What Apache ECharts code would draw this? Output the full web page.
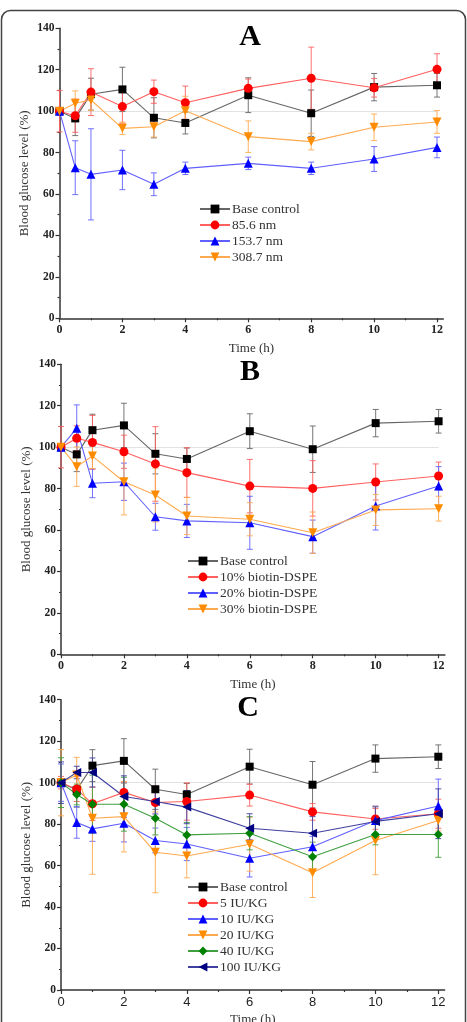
<!DOCTYPE html>
<html>
<head>
<meta charset="utf-8">
<script src="https://cdn.jsdelivr.net/npm/echarts@6/dist/echarts.min.js"></script>
<style>
html,body{margin:0;padding:0;background:#fff;}
#chart{width:467px;height:1022px;}
</style>
</head>
<body>
<div id="chart"></div>
<script>
// ---------------- DATA ----------------
const times = [0, 0.5, 1, 2, 3, 4, 6, 8, 10, 12];
const xTickLabels = [0, 2, 4, 6, 8, 10, 12];
const xMinorTicks = [1, 3, 5, 7, 9, 11];

const baseCtrl    = [100, 96.5, 108.2, 110.5, 96.8, 94.3, 107.7, 99.0, 111.6, 112.5];
const baseCtrlErr = [0, 8.3, 7.7, 10.7, 9.7, 5.3, 8.4, 11.2, 6.6, 5.7];

// Panel A
const a856     = [100, 97.8, 109.2, 102.2, 109.4, 104.1, 111.0, 115.9, 111.3, 120.2];
const a856Err  = [10, 8, 11.3, 8, 5.6, 8, 4.5, 15, 4.5, 7.5];
const a1537    = [100, 72.7, 69.5, 71.6, 64.7, 72.4, 74.8, 72.4, 76.9, 82.5];
const a1537Err = [0, 13, 22, 9.5, 5.5, 3, 3, 3, 6, 5];
const a3087    = [100, 103.8, 105.4, 91.7, 92.5, 100.2, 87.7, 85.3, 92.2, 94.8];
const a3087Err = [0, 6, 5, 3, 5, 7, 7.6, 4, 6.4, 5.5];

// Panel B
const b10    = [100, 104.3, 102.3, 97.8, 91.9, 87.7, 81.2, 80.1, 83.2, 86.1];
const b10Err = [10, 6, 13, 8, 18, 12, 12.9, 13.4, 8.7, 6.7];
const b20    = [100, 109.1, 82.6, 83.3, 66.4, 64.4, 63.5, 56.8, 71.6, 81.2];
const b20Err = [0, 11.3, 7, 9, 6.5, 8, 12.8, 8, 11.6, 9.4];
const b30    = [100, 90.6, 95.7, 83.3, 76.9, 66.8, 65.2, 58.7, 69.7, 70.3];
const b30Err = [0, 9.5, 6, 16, 13, 9, 8, 10, 7.5, 6];

// Panel C
const c5     = [100, 96.9, 89.8, 95.3, 90.4, 90.9, 94.0, 85.9, 82.5, 85.0];
const c5Err  = [3, 6, 8, 5, 8, 9, 5.3, 4, 5, 7];
const c10    = [100, 80.8, 77.7, 80.4, 72.1, 70.4, 63.5, 69.1, 81.7, 88.7];
const c10Err = [9, 7.6, 6, 9, 6, 8, 9, 5, 7, 13];
const c20    = [100, 103.7, 82.8, 83.6, 66.4, 64.6, 70.3, 56.6, 72.1, 81.7];
const c20Err = [16, 8.5, 27, 17, 19.5, 10.5, 13, 12, 16.5, 5];
const c40    = [100, 94.3, 89.6, 89.6, 82.8, 74.8, 75.6, 64.3, 75.0, 75.0];
const c40Err = [12, 5, 14, 13, 8, 6, 8, 7, 5, 11];
const c100   = [100, 104.9, 104.9, 93.3, 90.9, 88.2, 78.0, 75.6, 81.3, 85.0];
const c100Err= [10, 3, 7, 10, 6, 8, 7, 8, 7, 12];

const panelLetters = ['A', 'B', 'C'];
const yTitle = 'Blood glucose level (%)';
const xTitle = 'Time (h)';

// ---------------- STYLE ----------------
const SERIF = '"Liberation Serif", "Times New Roman", serif';
const SANS = '"Liberation Sans", Arial, sans-serif';
const STY = {
  black:  {marker:'#000000', line:'#666666', symbol:'rect', rot:0, size:8},
  red:    {marker:'#ff0000', line:'#ff6060', symbol:'circle', rot:0, size:9},
  blue:   {marker:'#0000ff', line:'#6060ff', symbol:'triangle', rot:0, size:9},
  orange: {marker:'#ff8c00', line:'#ffaa50', symbol:'triangle', rot:180, size:9},
  green:  {marker:'#008000', line:'#40a040', symbol:'diamond', rot:0, size:9},
  navy:   {marker:'#000080', line:'#4040a0', symbol:'triangle', rot:90, size:9}
};

const panels = [
  {grid:{left:59.5, top:28.3, width:383.8, height:290}, letter:{x:250, y:37},
   legend:{left:199, top:202}, xLabelFont:{fontFamily:SERIF, fontWeight:'bold', fontSize:12}, xNameGap:24,
   sets:[
     {name:'Base control', v:baseCtrl, e:baseCtrlErr, s:'black'},
     {name:'85.6 nm', v:a856, e:a856Err, s:'red'},
     {name:'153.7 nm', v:a1537, e:a1537Err, s:'blue'},
     {name:'308.7 nm', v:a3087, e:a3087Err, s:'orange'}
   ]},
  {grid:{left:61, top:364.3, width:383.9, height:290}, letter:{x:250, y:372},
   legend:{left:187, top:554}, xLabelFont:{fontFamily:SERIF, fontWeight:'bold', fontSize:12}, xNameGap:24,
   sets:[
     {name:'Base control', v:baseCtrl, e:baseCtrlErr, s:'black'},
     {name:'10% biotin-DSPE', v:b10, e:b10Err, s:'red'},
     {name:'20% biotin-DSPE', v:b20, e:b20Err, s:'blue'},
     {name:'30% biotin-DSPE', v:b30, e:b30Err, s:'orange'}
   ]},
  {grid:{left:61, top:699.7, width:383.6, height:290.3}, letter:{x:248, y:708},
   legend:{left:187, top:880}, xLabelFont:{fontFamily:SANS, fontWeight:'normal', fontSize:13}, xNameGap:23,
   sets:[
     {name:'Base control', v:baseCtrl, e:baseCtrlErr, s:'black'},
     {name:'5 IU/KG', v:c5, e:c5Err, s:'red'},
     {name:'10 IU/KG', v:c10, e:c10Err, s:'blue'},
     {name:'20 IU/KG', v:c20, e:c20Err, s:'orange'},
     {name:'40 IU/KG', v:c40, e:c40Err, s:'green'},
     {name:'100 IU/KG', v:c100, e:c100Err, s:'navy'}
   ]}
];

const grids = [], xAxes = [], yAxes = [], series = [], legends = [], graphics = [];

panels.forEach((p, pi) => {
  grids.push(Object.assign({containLabel:false, outerBoundsMode:'none'}, p.grid));
  const mainX = xAxes.length;
  xAxes.push({
    gridIndex: pi, type:'value', min:0, max:12.2, position:'bottom',
    name: xTitle, nameLocation:'middle', nameGap:p.xNameGap, nameMoveOverlap:false,
    nameTextStyle:{fontFamily:SERIF, fontSize:13, color:'#333'},
    axisLine:{show:true, onZero:false, lineStyle:{color:'#333', width:1.5}},
    axisTick:{show:true, inside:false, length:4, customValues:xTickLabels, lineStyle:{color:'#333', width:1.2}},
    axisLabel:{show:true, margin:6, customValues:xTickLabels, color:'#222',
      fontFamily:p.xLabelFont.fontFamily, fontWeight:p.xLabelFont.fontWeight, fontSize:p.xLabelFont.fontSize},
    splitLine:{show:false}
  });
  xAxes.push({
    gridIndex: pi, type:'value', min:0, max:12.2, position:'bottom',
    axisLine:{show:false},
    axisTick:{show:true, inside:false, length:2, customValues:xMinorTicks, lineStyle:{color:'#333', width:1.2}},
    axisLabel:{show:false},
    splitLine:{show:false}
  });
  yAxes.push({
    gridIndex: pi, type:'value', min:0, max:140, interval:20,
    name: yTitle, nameLocation:'middle', nameGap:28, nameRotate:90, nameMoveOverlap:false,
    nameTextStyle:{fontFamily:SERIF, fontSize:13, color:'#333'},
    axisLine:{show:true, onZero:false, lineStyle:{color:'#333', width:1.5}},
    axisTick:{show:true, inside:false, length:4, lineStyle:{color:'#333', width:1.2}},
    minorTick:{show:true, splitNumber:2, length:2, lineStyle:{color:'#333', width:1.2}},
    axisLabel:{margin:5, color:'#222', fontFamily:SERIF, fontWeight:'bold', fontSize:11.5},
    splitLine:{show:false}
  });

  const names = [];
  p.sets.forEach((d, di) => {
    const st = STY[d.s];
    names.push(d.name);
    // error bars
    series.push({
      type:'custom', name:d.name + ' error', xAxisIndex:mainX, yAxisIndex:pi,
      z: 2, silent:true,
      data: times.map((t, i) => [t, d.v[i] - d.e[i], d.v[i] + d.e[i]]),
      encode:{x:0, y:[1,2]},
      renderItem: (params, api) => {
        const x = api.value(0), lo = api.value(1), hi = api.value(2);
        if (hi - lo < 0.01) return null;
        const a = api.coord([x, lo]), b = api.coord([x, hi]);
        const cw = 3;
        const style = {stroke: st.line, lineWidth: 1, opacity: 0.9};
        return {type:'group', children:[
          {type:'line', shape:{x1:a[0], y1:a[1], x2:b[0], y2:b[1]}, style},
          {type:'line', shape:{x1:a[0]-cw, y1:a[1], x2:a[0]+cw, y2:a[1]}, style},
          {type:'line', shape:{x1:b[0]-cw, y1:b[1], x2:b[0]+cw, y2:b[1]}, style}
        ]};
      }
    });
    const line = {
      type:'line', name:d.name, xAxisIndex:mainX, yAxisIndex:pi, z:3,
      data: times.map((t, i) => [t, d.v[i]]),
      symbol: st.symbol, symbolSize: st.size, symbolRotate: st.rot,
      showAllSymbol:true, animation:false,
      itemStyle:{color: st.marker, borderWidth:0},
      lineStyle:{color: st.line, width:1.1},
      emphasis:{disabled:true}
    };
    if (di === 0) {
      line.markLine = {
        silent:true, symbol:['none','none'], label:{show:false}, z:1,
        lineStyle:{color:'#e2e2e2', width:1, type:'solid'},
        data:[[{coord:[0,100]},{coord:[12,100]}]]
      };
    }
    series.push(line);
  });

  legends.push({
    orient:'vertical', left:p.legend.left, top:p.legend.top,
    itemWidth:30, itemHeight:11, itemGap:2, padding:0,
    data: names,
    selectedMode:false,
    textStyle:{fontFamily:SERIF, fontSize:13.5, color:'#333', padding:[0,0,0,-3]}
  });

  graphics.push({
    type:'text', x:p.letter.x, y:p.letter.y, z:10,
    style:{text:panelLetters[pi], font:'bold 30px ' + SERIF, fill:'#000',
      textAlign:'center', textVerticalAlign:'middle'}
  });
});

// frame
graphics.unshift({
  type:'rect', z:-1, shape:{x:1.5, y:10.5, width:464, height:1040, r:9},
  style:{fill:'none', stroke:'#444', lineWidth:1.5}
});

const chart = echarts.init(document.getElementById('chart'), null, {renderer:'canvas'});
chart.setOption({
  backgroundColor:'#fff',
  animation:false,
  grid: grids,
  xAxis: xAxes,
  yAxis: yAxes,
  legend: legends,
  graphic: graphics,
  series: series
});
</script>
</body>
</html>
